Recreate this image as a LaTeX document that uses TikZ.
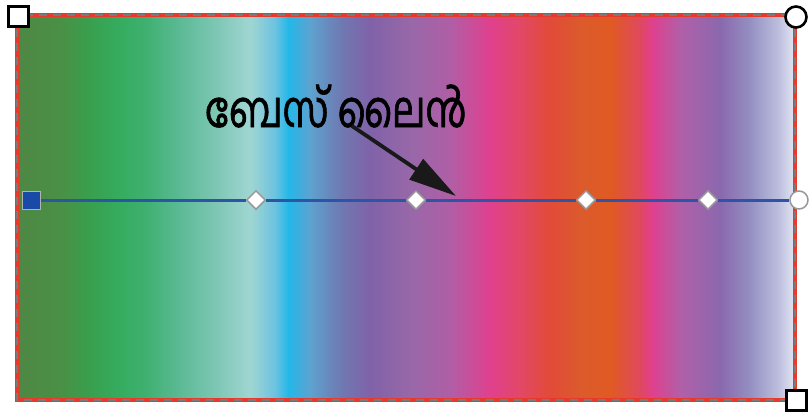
\documentclass[tikz,border=0pt]{standalone}
\usepackage{fontspec}
\newfontfamily\mlfont[Script=Malayalam, FakeStretch=0.76, FakeBold=1.2]{Hind Kochi}
\usetikzlibrary{shapes.geometric,arrows.meta}
\definecolor{c0}{HTML}{4E8744}
\definecolor{c1}{HTML}{4A9045}
\definecolor{c2}{HTML}{38A04E}
\definecolor{c3}{HTML}{35AC60}
\definecolor{c4}{HTML}{3FB070}
\definecolor{c5}{HTML}{5CBA96}
\definecolor{c6}{HTML}{82C8B8}
\definecolor{c7}{HTML}{A0D6D2}
\definecolor{c8}{HTML}{6CC2E0}
\definecolor{c9}{HTML}{22B8E8}
\definecolor{c10}{HTML}{5EA2D0}
\definecolor{c11}{HTML}{6E7AB2}
\definecolor{c12}{HTML}{8062A8}
\definecolor{c13}{HTML}{9868A8}
\definecolor{c14}{HTML}{B05EA6}
\definecolor{c15}{HTML}{E0408E}
\definecolor{c16}{HTML}{E24866}
\definecolor{c17}{HTML}{E24A3A}
\definecolor{c18}{HTML}{DC5A2C}
\definecolor{c19}{HTML}{E05A22}
\definecolor{c20}{HTML}{E04860}
\definecolor{c21}{HTML}{E0408E}
\definecolor{c22}{HTML}{B060A8}
\definecolor{c23}{HTML}{8A68AE}
\definecolor{c24}{HTML}{9490C2}
\definecolor{c25}{HTML}{C0C2E0}
\definecolor{c26}{HTML}{E6E8F4}
\definecolor{framered}{HTML}{E53A2C}
\definecolor{dashgray}{HTML}{7A7A7A}
\definecolor{lineblue}{HTML}{2E55A5}
\definecolor{sqblue}{HTML}{1A4AA8}
\tikzset{
  cornersq/.style={draw=black, line width=3pt, fill=white, rectangle, minimum size=20pt, inner sep=0pt},
  cornercirc/.style={draw=black, line width=2.6pt, fill=white, circle, minimum size=21pt, inner sep=0pt},
  endcirc/.style={draw=gray!80, line width=1.5pt, fill=white, circle, minimum size=18pt, inner sep=0pt},
  nodediam/.style={draw=gray!80, line width=1.5pt, fill=white, diamond, minimum width=19pt, minimum height=19pt, inner sep=0pt},
  startsq/.style={draw=gray!60, line width=1pt, fill=sqblue, rectangle, minimum size=18pt, inner sep=0pt},
  baseline/.style={draw=lineblue, line width=3pt},
  pointer/.style={draw=black!90, line width=3.8pt, -{Triangle[length=48pt,width=24pt]}},
  lbl/.style={font=\mlfont\fontsize{50}{54}\selectfont, text=black, inner sep=0pt}
}
\begin{document}
\begin{tikzpicture}[x=1pt,y=-1pt]
\useasboundingbox (0,0) rectangle (810,416);
\fill[white] (0,0) rectangle (810,416);
% gradient fill
\foreach \xa/\ca/\xb/\cb in {17/c0/60/c1, 60/c1/90/c2, 90/c2/120/c3, 120/c3/145/c4, 145/c4/180/c5, 180/c5/220/c6, 220/c6/250/c7, 250/c7/275/c8, 275/c8/288/c9, 288/c9/310/c10, 310/c10/340/c11, 340/c11/370/c12, 370/c12/410/c13, 410/c13/450/c14, 450/c14/490/c15, 490/c15/520/c16, 520/c16/548/c17, 548/c17/580/c18, 580/c18/610/c19, 610/c19/640/c20, 640/c20/652/c21, 652/c21/680/c22, 680/c22/720/c23, 720/c23/750/c24, 750/c24/780/c25, 780/c25/795/c26}
  \shade[left color=\ca, right color=\cb] (\xa,15) rectangle ({\xb+0.6},400);
% frame
\draw[framered, line width=4.4pt] (17,15) rectangle (795,400);
\draw[dashgray, line width=2pt, dash pattern=on 8pt off 6pt] (17,15) rectangle (795,400);
% handles
\node[cornersq] (tl) at (18,16) {};
\node[cornercirc] (tr) at (796,17) {};
\node[cornersq] (br) at (796,400) {};
% base line with nodes
\node[startsq] (s0) at (31,200) {};
\node[nodediam] (d1) at (256,200) {};
\node[nodediam] (d2) at (416,200) {};
\node[nodediam] (d3) at (586,200) {};
\node[nodediam] (d4) at (708,200) {};
\node[endcirc] (e5) at (799,200) {};
\draw[baseline] (s0) -- (d1) -- (d2) -- (d3) -- (d4) -- (e5);
% label and arrow
\node[lbl] (label) at (336,106) {ബേസ് ലൈൻ};
\coordinate (ast) at (352,126);
\coordinate (aen) at (456,196);
\draw[pointer] (ast) -- (aen);
\end{tikzpicture}
\end{document}
